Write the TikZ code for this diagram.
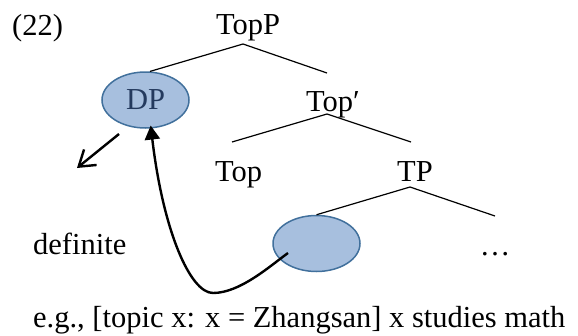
\documentclass[tikz,border=0pt]{standalone}
\usepackage{fontspec}
\setmainfont{Liberation Serif}
\usetikzlibrary{arrows.meta,shapes.geometric}
\definecolor{bubblefill}{HTML}{A7BFDE}
\definecolor{bubbleline}{HTML}{41709C}
\definecolor{bubbletext}{HTML}{243A5E}
\begin{document}
\begin{tikzpicture}[x=1pt,y=-1pt,
  font=\fontsize{30.5}{36}\selectfont,
  lbl/.style={inner sep=0pt, anchor=base west},
  branch/.style={line width=1.2pt},
  bubble/.style={ellipse, draw=bubbleline, fill=bubblefill, line width=1.5pt,
    minimum width=87pt, minimum height=56pt, inner sep=0pt, text=bubbletext},
  mover/.style={line width=2.4pt, shorten >=-3pt, -{Triangle[length=14pt,width=15pt]}},
  hint/.style={line width=2.4pt, -{Straight Barb[length=15pt,width=20pt]}}]
\useasboundingbox (0,0) rectangle (578,335);

% labels of the tree
\node[lbl] (num) at (12,35) {(22)};
\node[lbl] (topp) at (216,34) {TopP};
\node[bubble] (dp) at (145.5,100) {DP};
\node[lbl] (topbar) at (306,111) {Top′};
\node[lbl] (top) at (215,181) {Top};
\node[lbl] (tp) at (397,181) {TP};
\node[bubble] (gap) at (316.5,243.5) {};
\node[anchor=base, inner sep=0pt] (dots) at (495,255) {…};
\node[lbl] (def) at (33,254) {definite};
\node[lbl] (eg) at (33,327) {e.g., [topic x: x = Zhangsan] x studies math};

% branch points and free branch ends
\coordinate (toppjoin) at (243,44);
\coordinate (topbarroof) at (327,73);
\coordinate (topbarjoin) at (327,114);
\coordinate (topleaf) at (232,142);
\coordinate (tpleaf) at (411,142);
\coordinate (tpjoin) at (410,187);
\coordinate (restleaf) at (495,216);

\draw[branch] (dp.81) -- (toppjoin) -- (topbarroof);
\draw[branch] (topleaf) -- (topbarjoin) -- (tpleaf);
\draw[branch] (gap.north) -- (tpjoin) -- (restleaf);

% movement of the topic DP
\coordinate (trace) at (288,253);
\coordinate (low) at (213,293);
\draw[mover] (trace) .. controls (270,266) and (240,293) .. (low)
  .. controls (190,293) and (163,230) .. (dp.-79);

% arrow toward the interpretation
\coordinate (hintstart) at (119,134);
\coordinate (hintend) at (77,168);
\draw[hint] (hintstart) -- (hintend);
\end{tikzpicture}
\end{document}
